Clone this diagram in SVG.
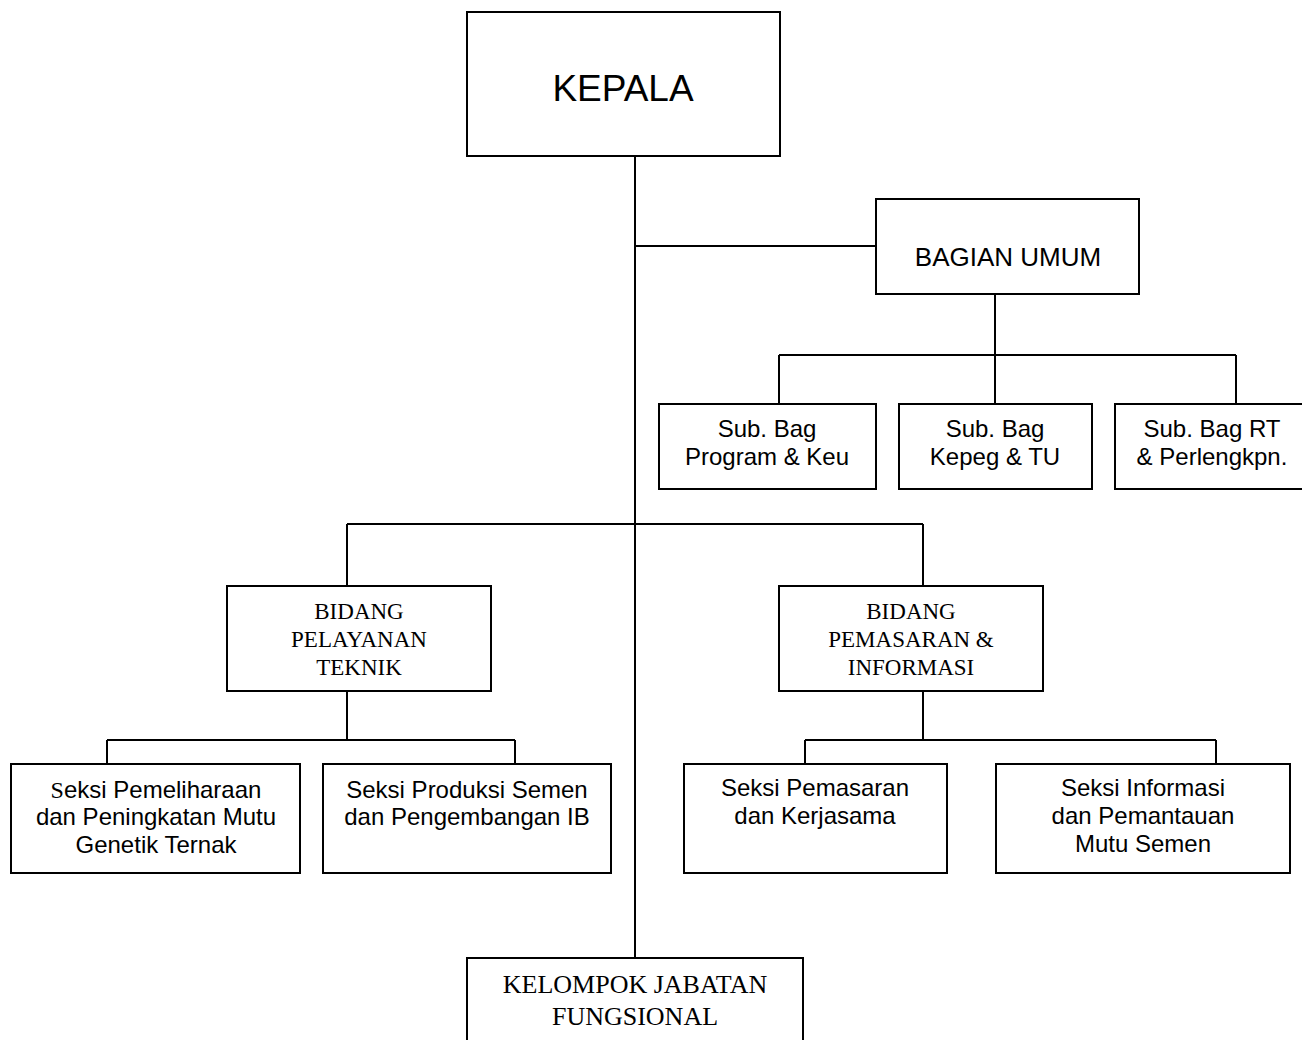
<svg xmlns="http://www.w3.org/2000/svg" width="1302" height="1040" viewBox="0 0 1302 1040">
<style>
.box{fill:#fff;stroke:#000;stroke-width:2}
.ln{stroke:#000;stroke-width:2;fill:none}
.sans{font-family:"Liberation Sans",Arial,sans-serif;font-size:24px;fill:#000;text-anchor:middle}
.serif{font-family:"Liberation Serif","Times New Roman",serif;font-size:23px;fill:#000;text-anchor:middle}
</style>
<rect width="1302" height="1040" fill="#fff"/>
<g id="connectors">
<path class="ln" d="M635 156V958"/>
<path class="ln" d="M635 246H876"/>
<path class="ln" d="M995 294V355M779 355H1236M779 355V404M995 355V404M1236 355V404"/>
<path class="ln" d="M347 524H923M347 524V586M923 524V586"/>
<path class="ln" d="M347 691V740M107 740H515M107 740V764M515 740V764"/>
<path class="ln" d="M923 691V740M805 740H1216M805 740V764M1216 740V764"/>
</g>
<g id="kepala">
<rect class="box" x="467" y="12" width="313" height="144"/>
<text class="sans" x="623" y="101" style="font-size:37px">KEPALA</text>
</g>
<g id="bagian-umum">
<rect class="box" x="876" y="199" width="263" height="95"/>
<text class="sans" x="1008" y="266" style="font-size:26px">BAGIAN UMUM</text>
</g>
<g id="subbag-program">
<rect class="box" x="659" y="404" width="217" height="85"/>
<text class="sans" x="767" y="437">Sub. Bag</text>
<text class="sans" x="767" y="465">Program &amp; Keu</text>
</g>
<g id="subbag-kepeg">
<rect class="box" x="899" y="404" width="193" height="85"/>
<text class="sans" x="995" y="437">Sub. Bag</text>
<text class="sans" x="995" y="465">Kepeg &amp; TU</text>
</g>
<g id="subbag-rt">
<rect class="box" x="1115" y="404" width="200" height="85"/>
<text class="sans" x="1212" y="437">Sub. Bag RT</text>
<text class="sans" x="1212" y="465">&amp; Perlengkpn.</text>
</g>
<g id="bidang-pelayanan">
<rect class="box" x="227" y="586" width="264" height="105"/>
<text class="serif" x="359" y="619">BIDANG</text>
<text class="serif" x="359" y="647">PELAYANAN</text>
<text class="serif" x="359" y="675">TEKNIK</text>
</g>
<g id="bidang-pemasaran">
<rect class="box" x="779" y="586" width="264" height="105"/>
<text class="serif" x="911" y="619">BIDANG</text>
<text class="serif" x="911" y="647">PEMASARAN &amp;</text>
<text class="serif" x="911" y="675">INFORMASI</text>
</g>
<g id="seksi-pemeliharaan">
<rect class="box" x="11" y="764" width="289" height="109"/>
<text class="sans" x="156" y="798"><tspan style="font-family:'Liberation Serif','Times New Roman',serif">S</tspan>eksi Pemeliharaan</text>
<text class="sans" x="156" y="825">dan Peningkatan Mutu</text>
<text class="sans" x="156" y="853">Genetik Ternak</text>
</g>
<g id="seksi-produksi">
<rect class="box" x="323" y="764" width="288" height="109"/>
<text class="sans" x="467" y="798">Seksi Produksi Semen</text>
<text class="sans" x="467" y="825">dan Pengembangan IB</text>
</g>
<g id="seksi-pemasaran">
<rect class="box" x="684" y="764" width="263" height="109"/>
<text class="sans" x="815" y="796">Seksi Pemasaran</text>
<text class="sans" x="815" y="824">dan Kerjasama</text>
</g>
<g id="seksi-informasi">
<rect class="box" x="996" y="764" width="294" height="109"/>
<text class="sans" x="1143" y="796">Seksi Informasi</text>
<text class="sans" x="1143" y="824">dan Pemantauan</text>
<text class="sans" x="1143" y="852">Mutu Semen</text>
</g>
<g id="kelompok-jabatan">
<rect class="box" x="467" y="958" width="336" height="100"/>
<text class="serif" x="635" y="993" style="font-size:26px">KELOMPOK JABATAN</text>
<text class="serif" x="635" y="1025" style="font-size:26px">FUNGSIONAL</text>
</g>
</svg>
